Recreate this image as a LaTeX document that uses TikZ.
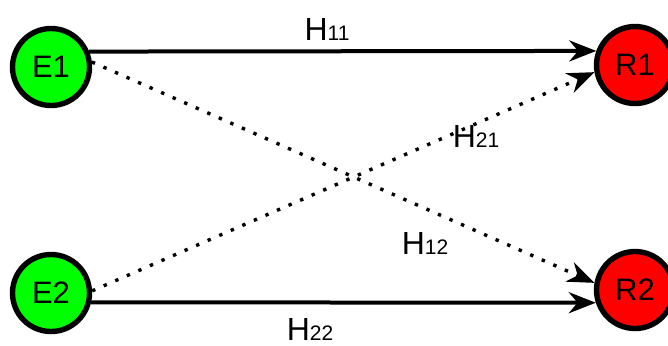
\documentclass[tikz,border=0pt]{standalone}
\usepackage{fontspec}
\setmainfont{Liberation Sans}
\usepackage{xcolor}
\usepackage{tikz}
\usetikzlibrary{
    arrows.meta,
    positioning
}
\definecolor{txgreen}{RGB}{0,255,0}
\definecolor{rxred}{RGB}{255,0,0}
\tikzset{
    emitter/.style={
        circle,
        draw,
        line width=2.7pt,
        minimum size=38.5pt,
        inner sep=0pt,
        font=\fontsize{15.5}{18}\selectfont,
        fill=txgreen
    }
}
\tikzset{
    receiver/.style={
        emitter,
        fill=rxred
    }
}
\tikzset{
    directpath/.style={
        draw,
        line width=2pt,
        -{Stealth[length=13.5pt,width=10.5pt]}
    }
}
\tikzset{
    crosspath/.style={
        draw,
        line width=1.7pt,
        dash pattern=on 1.7pt off 4.6pt,
        -{Stealth[length=13.5pt,width=10.5pt]}
    }
}
\newcommand{\gain}[1]{H{\fontsize{10.5}{12}\selectfont #1}}
\tikzset{
    gainlabel/.style={
        font=\fontsize{16}{19}\selectfont,
        inner sep=0pt
    }
}

\begin{document}
\begin{tikzpicture}[
    x=0.5pt,
    y=-0.5pt
]
\useasboundingbox (0,0) rectangle (668,345);

% ------------------------------------------------------------
% Transmitters and receivers
% ------------------------------------------------------------

\node[emitter] (e1) at (51,67) {E1};
\node[emitter] (e2) at (51,293) {E2};
\node[receiver] (r1) at (635,65) {R1};
\node[receiver] (r2) at (635,290) {R2};

% ------------------------------------------------------------
% Channels
% ------------------------------------------------------------

\draw[directpath] (e1.22) -- (r1.160);
\draw[directpath] (e2.-13) -- (r2.198);
\draw[crosspath] (e1.7) -- (r2.170);
\draw[crosspath] (e2.3) -- (r1.190);

\node[gainlabel] (h11) at (327,29) {\gain{11}};
\node[gainlabel] (h21) at (476,136) {\gain{21}};
\node[gainlabel] (h12) at (425,243) {\gain{12}};
\node[gainlabel] (h22) at (310,329) {\gain{22}};

\end{tikzpicture}
\end{document}
